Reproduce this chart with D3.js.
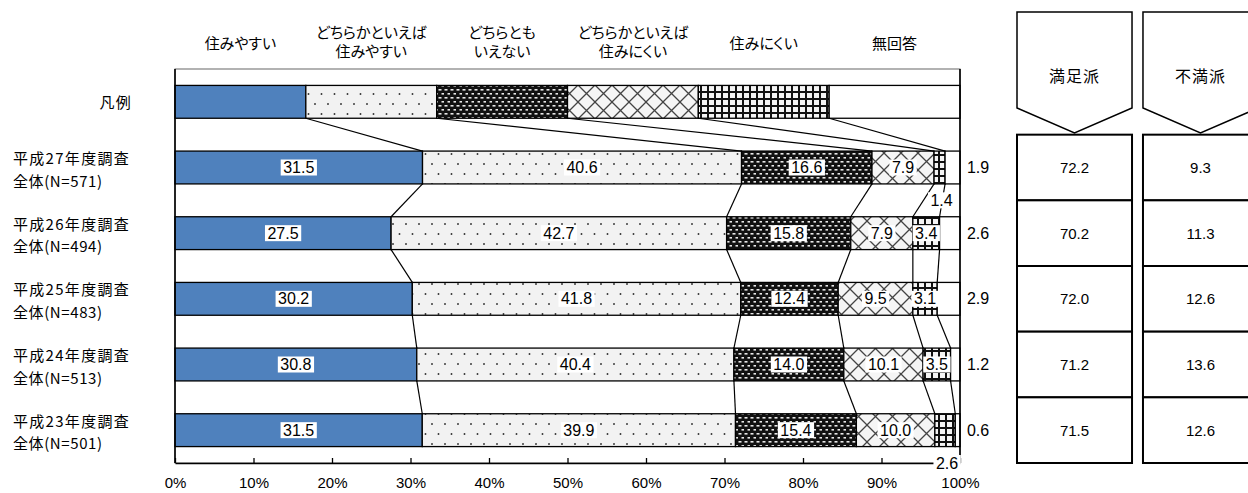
<!DOCTYPE html>
<html><head><meta charset="utf-8">
<script src="https://cdn.jsdelivr.net/npm/d3@7"></script>
<style>
body{margin:0;background:#fff;}
svg text{font-family:"Noto Sans CJK JP","Liberation Sans",sans-serif;}
.jp{font-feature-settings:"palt";}
.num{font-family:"Liberation Sans",Arial,sans-serif !important;}
</style></head><body>
<svg id="c" width="1248" height="493"></svg>
<script>
// ---------- data ----------
const categories = ["住みやすい","どちらかといえば住みやすい","どちらともいえない","どちらかといえば住みにくい","住みにくい","無回答"];
const headerLines = [["住みやすい"],["どちらかといえば","住みやすい"],["どちらとも","いえない"],["どちらかといえば","住みにくい"],["住みにくい"],["無回答"]];
const legendLabel = "凡例";
const surveyLines = [
  ["平成27年度調査","全体(N=571)"],
  ["平成26年度調査","全体(N=494)"],
  ["平成25年度調査","全体(N=483)"],
  ["平成24年度調査","全体(N=513)"],
  ["平成23年度調査","全体(N=501)"]
];
const sumiyasui    = [31.5, 27.5, 30.2, 30.8, 31.5];
const dochiraYasui = [40.6, 42.7, 41.8, 40.4, 39.9];
const dochiraMo    = [16.6, 15.8, 12.4, 14.0, 15.4];
const dochiraNikui = [7.9, 7.9, 9.5, 10.1, 10.0];
const sumiNikui    = [1.4, 3.4, 3.1, 3.5, 2.6];
const muKaitou     = [1.9, 2.6, 2.9, 1.2, 0.6];
const tableHeaders = ["満足派","不満派"];
const manzoku = [72.2, 70.2, 72.0, 71.2, 71.5];
const fuman   = [9.3, 11.3, 12.6, 13.6, 12.6];
const xTicks = [0,10,20,30,40,50,60,70,80,90,100];

// ---------- setup ----------
const svg = d3.select("#c");
const series = [sumiyasui, dochiraYasui, dochiraMo, dochiraNikui, sumiNikui, muKaitou];
const rowKeys = ["legend"].concat(surveyLines.map((d,i)=>"s"+i));
const rows = rowKeys.map((key,r)=>{
  const o = {key};
  categories.forEach((c,k)=>{ o[c] = r===0 ? 1 : series[k][r-1]; });
  return o;
});
const stacked = d3.stack().keys(categories).offset(d3.stackOffsetExpand)(rows);

const plotL = 175, plotR = 960, plotT = 69, plotB = 463;
const x = d3.scaleLinear().domain([0,1]).range([plotL, plotR]);
const xPct = d3.scaleLinear().domain([0,100]).range([plotL, plotR]);
const y = d3.scaleBand().domain(rowKeys).range([plotT, plotB]).paddingInner(0.5).paddingOuter(0.25);
const bw = y.bandwidth(), step = y.step();

// ---------- patterns ----------
const defs = svg.append("defs");
function pat(id,w,h){ return defs.append("pattern").attr("id",id).attr("patternUnits","userSpaceOnUse").attr("width",w).attr("height",h); }
const pDots = pat("pDots",13,20);
pDots.append("rect").attr("width",13).attr("height",20).attr("fill","#f2f2f2");
pDots.append("circle").attr("cx",3).attr("cy",4).attr("r",0.95).attr("fill","#333");
pDots.append("circle").attr("cx",9.5).attr("cy",14).attr("r",0.95).attr("fill","#333");
const pDark = pat("pDark",6,8);
pDark.append("rect").attr("width",6).attr("height",8).attr("fill","#111");
pDark.append("rect").attr("x",0.5).attr("y",1).attr("width",3).attr("height",1.6).attr("fill","#e8e8e8");
pDark.append("rect").attr("x",3.5).attr("y",5).attr("width",3).attr("height",1.6).attr("fill","#e8e8e8");
const pCross = pat("pCross",17,17);
pCross.append("rect").attr("width",17).attr("height",17).attr("fill","#f5f5f5");
pCross.append("path").attr("d","M0,0L17,17M17,0L0,17").attr("stroke","#444").attr("stroke-width",1.3);
const pGrid = pat("pGrid",7,7);
pGrid.append("rect").attr("width",7).attr("height",7).attr("fill","#f4f4f4");
pGrid.append("rect").attr("width",2).attr("height",7).attr("fill","#111");
pGrid.append("rect").attr("width",7).attr("height",2).attr("fill","#111");
const fills = ["#4F81BD","url(#pDots)","url(#pDark)","url(#pCross)","url(#pGrid)","#ffffff"];

// ---------- frame ----------
svg.append("rect").attr("x",plotL).attr("y",plotT).attr("width",plotR-plotL).attr("height",plotB-plotT)
  .attr("fill","#fff").attr("stroke","#666").attr("stroke-width",1);

// ---------- bars ----------
const gBars = svg.append("g");
stacked.forEach((s,k)=>{
  gBars.selectAll(null).data(s).join("rect")
    .attr("x",d=>x(d[0])).attr("width",d=>x(d[1])-x(d[0]))
    .attr("y",d=>y(d.data.key)).attr("height",bw)
    .attr("fill",fills[k]).attr("stroke","#000").attr("stroke-width",1.3);
});

// ---------- series lines ----------
const gLines = svg.append("g").attr("stroke","#000").attr("stroke-width",1.2);
for(let r=0;r<rowKeys.length-1;r++){
  for(let k=0;k<categories.length-1;k++){
    gLines.append("line")
      .attr("x1",x(stacked[k][r][1])).attr("y1",y(rowKeys[r])+bw)
      .attr("x2",x(stacked[k][r+1][1])).attr("y2",y(rowKeys[r+1]));
  }
}

// ---------- axes / frame lines ----------
const axis = d3.axisBottom(xPct).tickValues(xTicks).tickFormat(d=>d+"%").tickSizeInner(-5).tickSizeOuter(0).tickPadding(14);
const gAx = svg.append("g").attr("transform",`translate(0,${plotB})`).call(axis);
gAx.select(".domain").attr("stroke","#000").attr("stroke-width",1.6);
gAx.selectAll(".tick line").attr("stroke","#000").attr("stroke-width",1.3);
gAx.selectAll(".tick text").attr("class","num").attr("font-size",15).attr("fill","#000");
svg.append("line").attr("x1",plotL).attr("x2",plotL).attr("y1",plotT).attr("y2",plotB).attr("stroke","#000").attr("stroke-width",1.6);
svg.append("line").attr("x1",plotR).attr("x2",plotR).attr("y1",plotT).attr("y2",plotB).attr("stroke","#000").attr("stroke-width",1.6);

// ---------- data labels ----------
const gLab = svg.append("g");
function boxed(g, tx, ty, txt){
  const t = g.append("text").attr("class","num").attr("x",tx).attr("y",ty)
    .attr("text-anchor","middle").attr("dominant-baseline","central")
    .attr("font-size",16).attr("fill","#000").text(txt);
  const b = t.node().getBBox();
  g.insert("rect","text").attr("x",b.x-2.5).attr("y",b.y+0.5).attr("width",b.width+5).attr("height",b.height-1).attr("fill","#fff");
}
for(let r=1;r<rowKeys.length;r++){
  const cy = y(rowKeys[r])+bw/2;
  categories.forEach((c,k)=>{
    const v = series[k][r-1];
    const d = stacked[k][r];
    const g = gLab.append("g");
    let tx = (x(d[0])+x(d[1]))/2, ty = cy;
    if(k===categories.length-1){ tx = 978; }
    else if(v < 3){ ty = y(rowKeys[r])+bw+(step-bw)/2; tx += 2; }
    boxed(g, tx, ty, v.toFixed(1));
  });
}

// ---------- headers ----------
const gHead = svg.append("g");
headerLines.forEach((lines,k)=>{
  const cx = (x(stacked[k][0][0])+x(stacked[k][0][1]))/2;
  const ys = lines.length===1 ? [42] : [31,50];
  lines.forEach((ln,i)=>{
    gHead.append("text").attr("class","jp").attr("x",cx).attr("y",ys[i]).attr("text-anchor","middle")
      .attr("dominant-baseline","central").attr("font-size",15).attr("fill","#000").text(ln);
  });
});

// ---------- row labels ----------
const gRow = svg.append("g");
gRow.append("text").attr("class","jp").attr("x",132).attr("y",y("legend")+bw/2).attr("text-anchor","end")
  .attr("dominant-baseline","central").attr("font-size",15).attr("letter-spacing",1.3).text(legendLabel);
surveyLines.forEach((lines,i)=>{
  const cy = y(rowKeys[i+1])+bw/2;
  gRow.append("text").attr("class","jp").attr("x",13).attr("y",cy-10).attr("dominant-baseline","central")
    .attr("font-size",15).attr("letter-spacing",1.3).text(lines[0]);
  gRow.append("text").attr("class","jp").attr("x",13).attr("y",cy+12.5).attr("dominant-baseline","central")
    .attr("font-size",15).attr("letter-spacing",0.6).text(lines[1]);
});

// ---------- right table ----------
const cols = d3.scaleBand().domain(tableHeaders).range([1017,1258]).paddingInner(0.087);
const cw = cols.bandwidth();
const gTab = svg.append("g");
const tableVals = [manzoku, fuman];
tableHeaders.forEach((h,j)=>{
  const cx0 = cols(h);
  gTab.append("path").attr("d",`M${cx0},12H${cx0+cw}V108L${cx0+cw/2},133L${cx0},108Z`)
    .attr("fill","#fff").attr("stroke","#000").attr("stroke-width",1.5);
  gTab.append("text").attr("class","jp").attr("x",cx0+cw/2).attr("y",75).attr("text-anchor","middle")
    .attr("dominant-baseline","central").attr("font-size",16).attr("letter-spacing",1).text(h);
  tableVals[j].forEach((v,i)=>{
    const top = y(rowKeys[i+1]) - (step-bw)/2;
    gTab.append("rect").attr("x",cx0).attr("y",top).attr("width",cw).attr("height",step)
      .attr("fill","#fff").attr("stroke","#000").attr("stroke-width",2);
    gTab.append("text").attr("class","num").attr("x",cx0+cw/2).attr("y",top+step/2).attr("text-anchor","middle")
      .attr("dominant-baseline","central").attr("font-size",15).text(v.toFixed(1));
  });
});
</script>
</body></html>
